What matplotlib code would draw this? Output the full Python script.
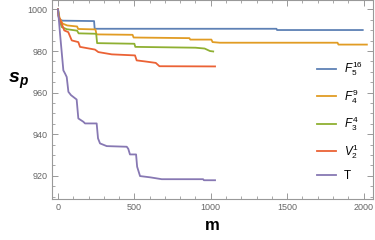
import matplotlib
matplotlib.use('Agg')
import matplotlib.pyplot as plt
from matplotlib.ticker import MultipleLocator

plt.rcParams['font.family'] = ['Liberation Sans', 'DejaVu Sans']
plt.rcParams['mathtext.fontset'] = 'custom'
plt.rcParams['mathtext.rm'] = 'Liberation Sans'
plt.rcParams['mathtext.it'] = 'Liberation Sans:italic'
plt.rcParams['mathtext.bf'] = 'Liberation Sans:bold'
plt.rcParams['mathtext.bfit'] = 'Liberation Sans:bold:italic'

# points (steps given as pairs of close m values)
m_f516 = [0, 5, 15, 30, 236, 240, 1430, 1434, 1995]
sp_f516 = [1000, 996, 995, 994.6, 994.4, 990.7, 990.7, 990.1, 990.1]

m_f49 = [0, 10, 30, 60, 125, 132, 245, 252, 488, 495, 860, 866, 1004, 1012,
         1060, 1830, 1836, 2022]
sp_f49 = [1000, 996, 993.2, 992.3, 991.8, 990.6, 990.4, 988.0, 987.8, 986.5,
          986.2, 985.5, 985.5, 984.3, 984.0, 984.0, 983.1, 983.1]

m_f34 = [0, 8, 25, 57, 125, 135, 250, 256, 500, 506, 900, 960, 995, 1016]
sp_f34 = [1000, 995, 991.5, 990.5, 989.8, 988.5, 988.3, 983.8, 983.5, 982.0,
          981.6, 981.2, 980.0, 979.8]

m_v21 = [0, 2, 20, 41, 67, 90, 133, 144, 242, 264, 352, 504, 515, 570, 640,
         664, 1028]
sp_v21 = [1000, 997, 993.9, 989.9, 989.1, 985.1, 984.3, 982.0, 980.7, 979.5,
          978.4, 977.9, 975.5, 975.0, 974.3, 972.7, 972.6]

m_t = [0, 13, 35, 46, 57, 68, 85, 122, 133, 166, 177, 253, 262, 275, 319,
       450, 460, 471, 511, 518, 537, 603, 679, 950, 955, 1028]
sp_t = [1000, 988.5, 970.7, 969.2, 967.5, 960.4, 958.8, 956.7, 947.6, 946.0,
        945.2, 945.2, 938.0, 935.6, 934.3, 934.0, 933.0, 930.3, 930.3, 924.4,
        919.9, 919.3, 918.4, 918.4, 917.9, 917.9]

series = [
    (m_f516, sp_f516, '#5E81B5', r'$F_5^{16}$'),
    (m_f49, sp_f49, '#E19C24', r'$F_4^{9}$'),
    (m_f34, sp_f34, '#8FB032', r'$F_3^{4}$'),
    (m_v21, sp_v21, '#EB6235', r'$V_2^{1}$'),
    (m_t, sp_t, '#8778B3', 'T'),
]

fig = plt.figure(figsize=(3.75, 2.4), dpi=100)
ax = fig.add_axes([0.138, 0.171, 0.857, 0.827])

for m, sp, col, lab in series:
    ax.plot(m, sp, color=col, lw=1.3, label=lab)

ax.set_xlim(-41, 2063)
ax.set_ylim(908.9, 1004.3)
ax.xaxis.set_major_locator(MultipleLocator(500))
ax.xaxis.set_minor_locator(MultipleLocator(100))
ax.yaxis.set_major_locator(MultipleLocator(20))
ax.yaxis.set_minor_locator(MultipleLocator(5))

for s in ax.spines.values():
    s.set_color('#999999')
    s.set_linewidth(0.8)
ax.tick_params(which='both', direction='in', top=True, right=True,
               color='#999999', labelcolor='#666666', labelsize=6.5, pad=3)
ax.tick_params(which='major', length=4, width=0.7)
ax.tick_params(which='minor', length=2.5, width=0.6)

ax.set_xlabel('m', fontsize=12, fontweight='bold', labelpad=4)
ax.set_ylabel(r'$\mathbfit{s_p}$', fontsize=14, rotation=0)
ax.yaxis.set_label_coords(-0.105, 0.545)

leg = ax.legend(loc='center left', bbox_to_anchor=(0.792, 0.394),
                frameon=False, fontsize=8.5, handlelength=1.65,
                handletextpad=0.65, labelspacing=0.75)

fig.savefig('out.png', dpi=100)
